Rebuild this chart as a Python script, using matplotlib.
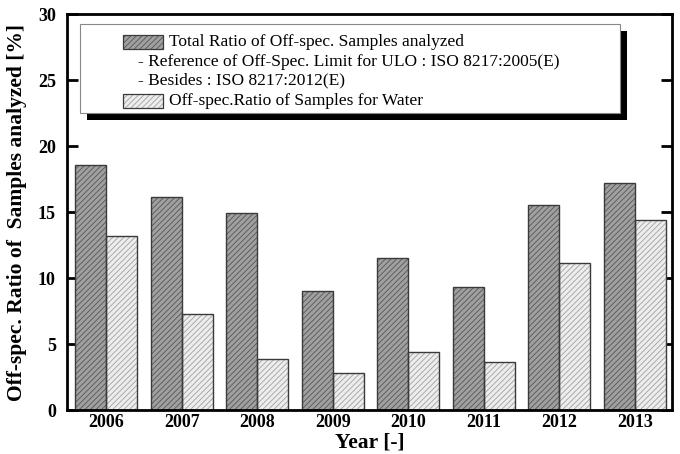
import numpy as np
import matplotlib.pyplot as plt
from matplotlib.patches import Rectangle

# Data
years = ['2006', '2007', '2008', '2009', '2010', '2011', '2012', '2013']
total_ratio = [18.6, 16.1, 14.9, 9.0, 11.5, 9.3, 15.5, 17.2]
water_ratio = [13.2, 7.3, 3.9, 2.8, 4.4, 3.6, 11.1, 14.4]

legend_labels = ['Total Ratio of Off-spec. Samples analyzed',
                 '- Reference of Off-Spec. Limit for ULO : ISO 8217:2005(E)',
                 '- Besides : ISO 8217:2012(E)',
                 'Off-spec.Ratio of Samples for Water']

serif = ['Liberation Serif', 'DejaVu Serif']
plt.rcParams['font.family'] = serif
plt.rcParams['hatch.linewidth'] = 0.6

dark_fill, dark_hatch = '#a0a0a0', '#555555'
light_fill, light_hatch = '#ededed', '#a0a0a0'
edge = '#3a3a3a'

fig = plt.figure(figsize=(6.8, 4.54), dpi=100)
ax = fig.add_axes([0.0985, 0.0969, 0.8897, 0.8722])

x = np.arange(len(years))
w = 0.41

# fill + hatch, then outline
ax.bar(x - w / 2, total_ratio, w, color=dark_fill, edgecolor=dark_hatch,
       hatch='//////', linewidth=0, zorder=2)
ax.bar(x + w / 2, water_ratio, w, color=light_fill, edgecolor=light_hatch,
       hatch='//////', linewidth=0, zorder=2)
ax.bar(x - w / 2, total_ratio, w, fill=False, edgecolor=edge, linewidth=1.0, zorder=3)
ax.bar(x + w / 2, water_ratio, w, fill=False, edgecolor=edge, linewidth=1.0, zorder=3)

ax.set_xlim(-0.52, 7.49)
ax.set_ylim(0, 30)
ax.set_yticks([0, 5, 10, 15, 20, 25, 30])
ax.set_xticks(x)
ax.set_xticklabels(years)

for s in ax.spines.values():
    s.set_linewidth(2)
    s.set_zorder(5)

ax.tick_params(axis='y', direction='in', length=8, width=2, right=True,
               labelsize=13, pad=8)
ax.tick_params(axis='x', direction='in', length=3, width=1.5, labelsize=13, pad=3)
for lab in ax.get_xticklabels() + ax.get_yticklabels():
    lab.set_fontweight('bold')

ax.set_ylabel('Off-spec. Ratio of  Samples analyzed [%]', fontsize=15.5,
              fontweight='bold', labelpad=8)
# x label placed low like the original, kept inside the figure
fig.text(0.0985 + 0.8897 / 2, 0.004, 'Year [-]', fontsize=15.5,
         fontweight='bold', ha='center', va='bottom')

# legend box drawn by hand (indented text rows like the original)
bx0, by0, bx1, by1 = 0.021, 0.75, 0.914, 0.975
ax.add_patch(Rectangle((bx0 + 0.012, by0 - 0.018), bx1 - bx0, by1 - by0,
                       transform=ax.transAxes, facecolor='black', edgecolor='none',
                       zorder=6))
ax.add_patch(Rectangle((bx0, by0), bx1 - bx0, by1 - by0, transform=ax.transAxes,
                       facecolor='white', edgecolor='#888888', linewidth=0.8,
                       zorder=7))

row_y = [0.929, 0.879, 0.833, 0.780]
hx, hw, hh = 0.093, 0.066, 0.036
for i, (fc, hc) in zip([0, 3], [(dark_fill, dark_hatch), (light_fill, light_hatch)]):
    ax.add_patch(Rectangle((hx, row_y[i] - hh / 2), hw, hh, transform=ax.transAxes,
                           facecolor=fc, edgecolor=hc, hatch='//////', linewidth=0,
                           zorder=8))
    ax.add_patch(Rectangle((hx, row_y[i] - hh / 2), hw, hh, transform=ax.transAxes,
                           fill=False, edgecolor=edge, linewidth=0.9, zorder=9))
    ax.text(0.168, row_y[i], legend_labels[i], transform=ax.transAxes,
            fontsize=12.5, va='center', ha='left', zorder=9)
for i in [1, 2]:
    ax.text(0.117, row_y[i], legend_labels[i], transform=ax.transAxes,
            fontsize=12.5, va='center', ha='left', zorder=9)

fig.savefig('out.png', dpi=100)
